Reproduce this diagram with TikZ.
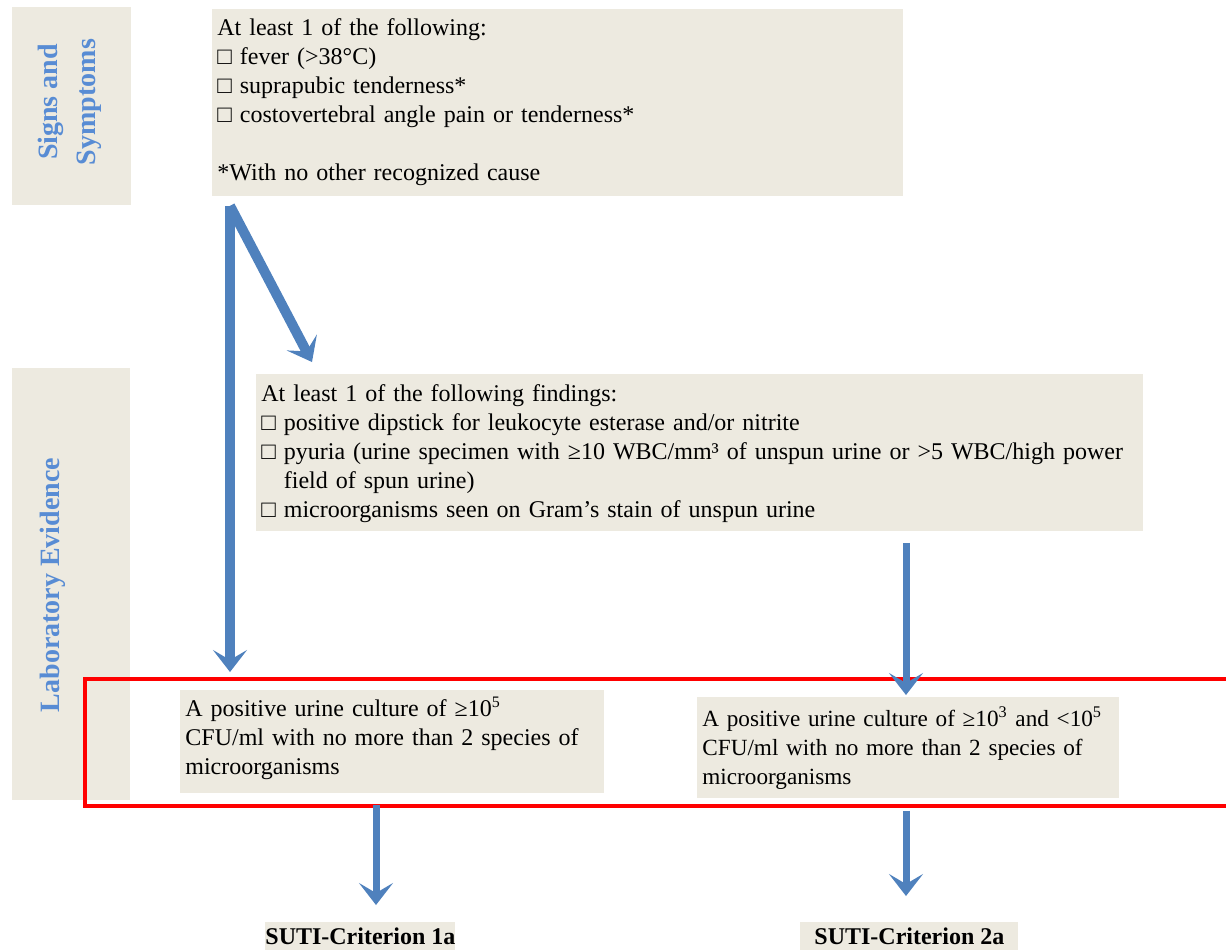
\documentclass[tikz,border=0pt]{standalone}
\usepackage{fontspec}
\setmainfont{Liberation Serif}
\usetikzlibrary{arrows.meta}

\definecolor{boxbeige}{RGB}{237,234,224}
\definecolor{flowblue}{RGB}{79,129,189}
\definecolor{headblue}{RGB}{88,140,212}

\begin{document}
\begin{tikzpicture}[x=0.5pt, y=-0.5pt,
    panel/.style={fill=boxbeige, inner sep=0pt},
    sidetext/.style={rotate=90, text=headblue, align=center, font=\fontsize{14}{19}\selectfont\bfseries},
    textbox/.style={fill=boxbeige, anchor=north west, align=left, inner xsep=2.5pt, inner ysep=2pt, font=\fontsize{12}{14.5}\selectfont},
    critbox/.style={fill=boxbeige, anchor=north west, inner sep=0pt, minimum height=14pt, font=\fontsize{12}{14.5}\selectfont\bfseries},
    flow/.style={draw=flowblue, line width=3.5pt, -{Stealth[length=11pt, width=17pt, inset=5pt]}},
    bigflow/.style={flow, line width=5pt}]
    \useasboundingbox (0,0) rectangle (1226,950);
    \clip (0,0) rectangle (1226,950);

    % side panels
    \node[panel, rotate=90, minimum width=99pt, minimum height=59.5pt] (signs) at (71.5,106) {};
    \node[sidetext] (signstext) at (70,102) {Signs and\\Symptoms};
    \node[panel, rotate=90, minimum width=216pt, minimum height=59pt] (lab) at (71,584) {};
    \node[sidetext] (labtext) at (53,585) {Laboratory Evidence};

    % signs and symptoms
    \node[textbox, text width=340.5pt, minimum height=93.5pt] (symptoms) at (212,9)
        {At least 1 of the following:\\
         □ fever (>38°C)\\
         □ suprapubic tenderness*\\
         □ costovertebral angle pain or tenderness*\\[14.5pt]
         *With no other recognized cause\\[-11.5pt]\mbox{}};

    % laboratory findings
    \node[textbox, text width=438.5pt, minimum height=78.5pt] (findings) at (256,374)
        {At least 1 of the following findings:\\
         □ positive dipstick for leukocyte esterase and/or nitrite\\
         □ pyuria (urine specimen with ≥10 WBC/mm³ of unspun urine or >5 WBC/high power\\
         \phantom{□ }field of spun urine)\\
         □ microorganisms seen on Gram’s stain of unspun urine\\[-12.5pt]\mbox{}};

    % cultures
    \node[textbox, text width=207pt, minimum height=51.5pt] (culture1) at (180,690)
        {A positive urine culture of ≥10\textsuperscript{5}\\
         CFU/ml with no more than 2 species of\\
         microorganisms\\[-8.5pt]\mbox{}};
    \node[textbox, text width=206pt, minimum height=50.5pt, font=\fontsize{11.6}{14.5}\selectfont] (culture2) at (697,697)
        {A positive urine culture of ≥10\textsuperscript{3} and <10\textsuperscript{5}\\
         CFU/ml with no more than 2 species of\\
         microorganisms};
    \draw[red, line width=2pt] (85,679) rectangle (1240,806);

    % criteria
    \node[critbox, minimum width=95pt] (crit1) at (265,922) {SUTI-Criterion 1a};
    \node[critbox, minimum width=109pt] (crit2) at (800,922) {SUTI-Criterion 2a};

    % arrows
    \draw[bigflow] ([xshift=9pt,yshift=-4.5pt]symptoms.south west) -- ([xshift=25pt,yshift=9pt]culture1.north west);
    \draw[bigflow] ([xshift=9pt,yshift=-4.5pt]symptoms.south west) -- ([xshift=28pt,yshift=6pt]findings.north west);
    \draw[flow] ([xshift=325pt,yshift=-5.5pt]findings.south west) -- ([xshift=104.5pt,yshift=1pt]culture2.north west);
    \draw[flow] ([xshift=98pt,yshift=-5.5pt]culture1.south west) -- ([xshift=55.5pt,yshift=8.5pt]crit1.north west);
    \draw[flow] ([xshift=104.5pt,yshift=-6pt]culture2.south west) -- ([xshift=53pt,yshift=13pt]crit2.north west);
\end{tikzpicture}
\end{document}
